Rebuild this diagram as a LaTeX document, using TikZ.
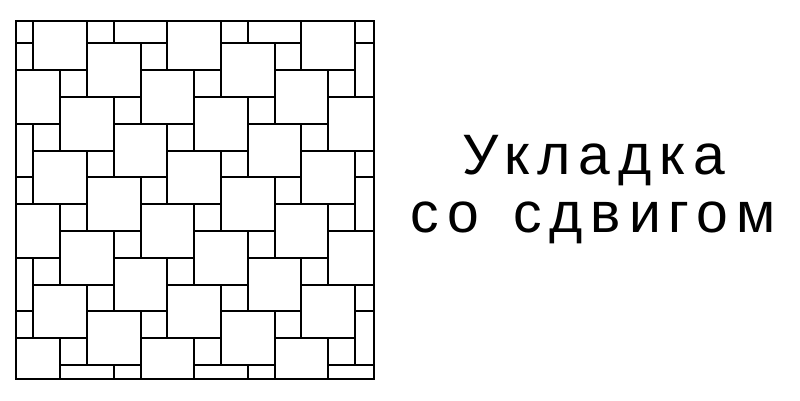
\documentclass[tikz,border=0pt]{standalone}
\usepackage{fontspec}
\newfontfamily\titlefont[LetterSpace=14]{Liberation Sans}
\usetikzlibrary{positioning}

\tikzset{
    tile/.style={draw=black, line width=2pt},
    frame/.style={draw=black, line width=2.2pt},
    title/.style={font=\titlefont\fontsize{57}{57}\selectfont, text=black, inner sep=0pt, anchor=base},
}

\begin{document}
\begin{tikzpicture}[x=1pt, y=-1pt]
    \useasboundingbox (0,0) rectangle (800,400);
    \def\u{26.8}
    \coordinate (NW) at (16,20.7);
    \coordinate (SE) at (374,379);

    % big and small squares, shifted by (2,1) and (-1,2)
    \begin{scope}
        \clip (NW) rectangle (SE);
        \foreach \m in {-3,...,9}
        {
            \foreach \n in {-5,...,8}
            {
                \pgfmathsetmacro{\bx}{33.4+(2*(\m)-(\n))*\u}
                \pgfmathsetmacro{\by}{43.4+((\m)+2*(\n)-1)*\u}
                \draw[tile] (\bx,\by) rectangle ++(2*\u,2*\u);
                \draw[tile] (\bx+\u,\by+2*\u) rectangle ++(\u,\u);
            };
        };
    \end{scope}
    \draw[frame] (NW) rectangle (SE);

    \node[title] (line1) at (594,174.5) {Укладка};
    \node[title] (line2) at (593,232) {со\kern10pt{} сдвигом};
\end{tikzpicture}
\end{document}
